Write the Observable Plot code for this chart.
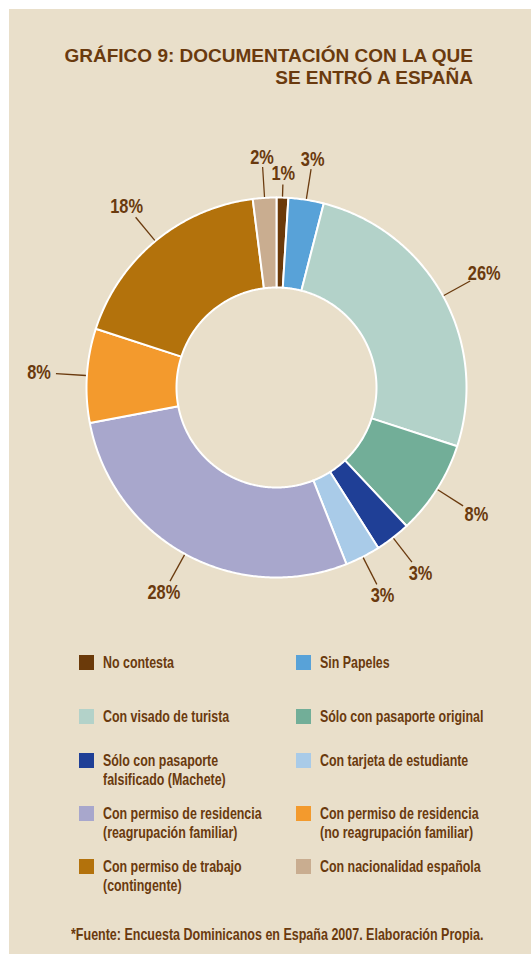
<!DOCTYPE html>
<html><head><meta charset="utf-8">
<script src="https://cdn.jsdelivr.net/npm/d3@7"></script>
<script src="https://cdn.jsdelivr.net/npm/@observablehq/plot@0.6"></script>
<style>
html,body{margin:0;padding:0;background:#fff;width:531px;height:954px;overflow:hidden;position:relative}
#panel{position:absolute;left:9px;top:9px;right:0;bottom:0;background:#e9dfca}
#title{position:absolute;top:45px;right:58px;text-align:right;font:bold 19px/22px "Liberation Sans",Arial,sans-serif;color:#6a3a0e;white-space:nowrap}
#chart{position:absolute;left:0;top:120px}
#legend{position:absolute;left:79px;top:653px;display:grid;grid-template-columns:217px 200px;grid-template-rows:54px 44px 53px 53px auto}
.item{display:flex;align-items:flex-start}
.sw{width:15px;height:15px;margin-top:2px;margin-right:9px;flex:none}
.lt{font:bold 17px/19px "Liberation Sans",Arial,sans-serif;color:#6a3a0e;white-space:pre;transform:scaleX(0.73);transform-origin:left top}
#source{position:absolute;left:71px;top:925px;font:bold 17px/19px "Liberation Sans",Arial,sans-serif;color:#6a3a0e;white-space:nowrap;transform:scaleX(0.735);transform-origin:left top}
</style></head><body>
<div id="panel"></div>
<div id="title">GRÁFICO 9: DOCUMENTACIÓN CON LA QUE<br>SE ENTRÓ A ESPAÑA</div>
<div id="chart"></div>
<div id="legend"></div>
<div id="source">*Fuente: Encuesta Dominicanos en España 2007. Elaboración Propia.</div>
<script>
const legendLabels = [
  "No contesta",
  "Sin Papeles",
  "Con visado de turista",
  "Sólo con pasaporte original",
  "Sólo con pasaporte\nfalsificado (Machete)",
  "Con tarjeta de estudiante",
  "Con permiso de residencia\n(reagrupación familiar)",
  "Con permiso de residencia\n(no reagrupación familiar)",
  "Con permiso de trabajo\n(contingente)",
  "Con nacionalidad española"
];
const categories = legendLabels.map(s => s.replace("\n", " "));
const values = [1, 3, 26, 8, 3, 3, 28, 8, 18, 2];
const colors = ["#6b3a0a", "#58a2d8", "#b3d2c9", "#72ae98", "#1f3f96", "#a9cbe8", "#a8a7cc", "#f39a2d", "#b3720c", "#c9ad90"];
const pctLabels = values.map(v => v + "%");

const brown = "#6a3a0e";
const unit = 190;            // outer radius in px
const inner = 100 / unit;    // inner radius in data units
const cx = 276, cy = 267;
const rad = a => a * Math.PI / 180;

const total = d3.sum(values);
let acc = 0;
const slices = categories.map((c, i) => {
  const a0 = acc / total * 360; acc += values[i];
  const a1 = acc / total * 360;
  return {c, v: values[i], label: pctLabels[i], a0, a1, mid: (a0 + a1) / 2};
});

const pts = slices.flatMap(s => {
  const n = Math.max(2, Math.ceil((s.a1 - s.a0) / 0.5));
  const out = [];
  for (let k = 0; k <= n; k++) {
    const a = rad(s.a0 + (s.a1 - s.a0) * k / n);
    out.push({c: s.c, x: Math.sin(a), y: Math.cos(a)});
  }
  for (let k = n; k >= 0; k--) {
    const a = rad(s.a0 + (s.a1 - s.a0) * k / n);
    out.push({c: s.c, x: inner * Math.sin(a), y: inner * Math.cos(a)});
  }
  return out;
});

const lineEnd = d => (d.v < 2 ? 203 : 221) / unit;
const labelR = d => d.v < 2 ? 214 / unit : (221 + 9 + 8 * Math.abs(Math.sin(rad(d.mid)))) / unit;

const chart = Plot.plot({
  width: 531, height: 510, margin: 0,
  style: {background: "transparent", overflow: "visible"},
  x: {domain: [-1, 1], range: [cx - unit, cx + unit], axis: null},
  y: {domain: [-1, 1], range: [cy + unit, cy - unit], axis: null},
  color: {domain: categories, range: colors},
  marks: [
    Plot.line(pts, {x: "x", y: "y", z: "c", fill: "c", stroke: "white", strokeWidth: 2, curve: "linear-closed"}),
    Plot.link(slices, {
      x1: d => 1.005 * Math.sin(rad(d.mid)), y1: d => 1.005 * Math.cos(rad(d.mid)),
      x2: d => lineEnd(d) * Math.sin(rad(d.mid)), y2: d => lineEnd(d) * Math.cos(rad(d.mid)),
      stroke: brown, strokeWidth: 1.3
    }),
    Plot.text(slices, {
      x: d => labelR(d) * Math.sin(rad(d.mid)), y: d => labelR(d) * Math.cos(rad(d.mid)),
      text: "label", fill: brown, fontSize: 20, fontWeight: "bold",
      fontFamily: "'Liberation Sans',Arial,sans-serif"
    })
  ]
});
// condense the percent labels horizontally (narrow bold face look)
chart.querySelectorAll("text").forEach(t => {
  const tr = t.getAttribute("transform") || "";
  if (t.hasAttribute("x")) {
    const x = +t.getAttribute("x") || 0, y = +t.getAttribute("y") || 0;
    t.setAttribute("transform", `${tr} translate(${x},${y}) scale(0.82,1) translate(${-x},${-y})`);
  } else {
    t.setAttribute("transform", `${tr} scale(0.82,1)`);
  }
});
document.getElementById("chart").appendChild(chart);

const legend = document.getElementById("legend");
legendLabels.forEach((t, i) => {
  const it = document.createElement("div");
  it.className = "item";
  const sw = document.createElement("div");
  sw.className = "sw"; sw.style.background = colors[i];
  const lt = document.createElement("div");
  lt.className = "lt"; lt.textContent = t;
  it.appendChild(sw); it.appendChild(lt);
  legend.appendChild(it);
});
</script>
</body></html>
